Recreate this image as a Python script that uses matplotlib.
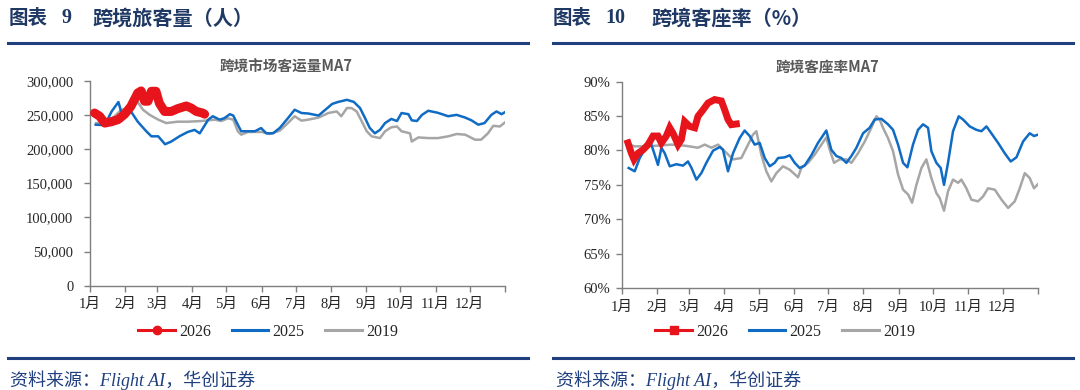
import matplotlib
matplotlib.use("Agg")
import matplotlib.pyplot as plt
from matplotlib.lines import Line2D
from matplotlib.ticker import FuncFormatter, MultipleLocator

# ---------------- data ----------------
month_labels = ["1月", "2月", "3月", "4月", "5月", "6月", "7月", "8月", "9月", "10月", "11月", "12月", ""]
month_starts = [0, 31, 59, 90, 120, 151, 181, 212, 243, 273, 304, 334, 365]
legend_labels = ["2026", "2025", "2019"]

# Left: cross-border passenger volume MA7 (persons, in thousands)
L_2026_day = [4, 8.5, 13, 18.8, 24.6, 30.5, 36, 42, 45, 48, 51, 54, 58, 61, 65.6, 71.5, 77, 84.7, 89, 93.5, 99, 100.8]
L_2026_val = [252.7, 248, 238, 240, 243, 251, 262.5, 282, 285, 270, 270, 284.5, 284.5, 267, 255, 255, 259, 263, 260, 255, 252.7, 251]

L_2025_day = [5, 13, 19, 25, 29, 31, 34, 42, 49.5, 54, 60, 66, 71.5, 79, 86, 92, 96.5, 104, 108, 114,
              118, 123, 126, 130, 133, 145, 150.5, 155, 161, 167, 174, 180, 186, 192, 201, 207, 213, 218, 226, 232,
              237.5, 242, 246, 250.5, 255, 259.5, 265, 270, 274, 280, 283, 287.5, 292, 297.5, 306, 315, 322.5, 330,
              335.5, 341.5, 347, 353, 357.5, 362, 365]
L_2025_val = [235.6, 235, 255, 268.8, 245, 255, 260, 240, 226, 218.6, 218.6, 207, 211, 219, 225, 228, 223, 243, 248, 243,
              245, 251, 249, 235.6, 226, 226, 230.7, 223, 223, 231, 245, 257.5, 252.7, 252, 249, 257.5, 266, 268.8, 272, 269,
              260, 245, 231, 223, 228, 238, 244, 241, 252.7, 251, 242, 241, 250, 256, 253, 248, 250, 246,
              242, 235.6, 238, 250, 255, 251, 254]

L_2019_day = [5.5, 13, 21.7, 27.5, 35, 42, 46.6, 52.5, 60, 67, 77, 86, 98, 109.6, 115.5, 121.4, 126, 130, 133, 139,
              151, 158, 167, 174, 180, 186, 192, 201, 209.6, 217, 221, 226, 230, 234.5, 239, 243.4, 247.7, 255, 259.5, 265,
              270, 274, 281.4, 283, 288.8, 297.6, 306, 315, 322.5, 330, 338.6, 344, 350, 354.7, 360.5, 365]
L_2019_val = [238, 238, 248, 257.5, 260, 268.8, 257.5, 250, 243, 238, 240, 240, 241, 243, 241, 245, 243, 226, 221, 225,
              225, 222, 227, 238, 248, 241.5, 243, 246, 252.7, 255, 248, 260, 260, 255, 240.5, 226, 218.6, 216, 226, 231.8,
              233, 226, 223, 211, 217, 216, 216, 218.6, 222, 221, 213.7, 213.7, 223, 234, 233, 239]

# Right: cross-border load factor MA7 (%)
R_2026_day = [5.5, 8.5, 10.8, 14.3, 18.7, 23.1, 27.5, 31.8, 34.8, 39.1, 42.1, 45, 49.4, 52.3, 55.2, 59.6, 64, 66.9,
              71.3, 75.7, 81.5, 87.4, 90.3, 93.2, 96.1, 100.5]
R_2026_val = [81.1, 79.6, 78.7, 79.6, 80.1, 80.85, 82.1, 82.1, 81.1, 82.1, 83.3, 82.5, 80.85, 81.6, 84.2, 83.5, 83.3, 84.97,
              85.9, 86.9, 87.4, 87.2, 85.9, 84.5, 83.75, 83.85]

R_2025_day = [6.1, 11.4, 15.8, 20.1, 24.5, 28.9, 31.8, 34.8, 37.7, 42.1, 47.9, 53.8, 58.1, 61.1, 65.5, 69.8, 74.2, 80.1,
              86, 88.8, 93.2, 97.6, 103.4, 107.8, 112.2, 116.6, 121, 125.4, 129.8, 134.1, 137.1, 142.9, 147.3, 151.7,
              156, 160.4, 166.3, 172.1, 179.4, 183.8, 188.2, 192.6, 197, 201.4, 205.8, 211.6, 217.4, 221.8, 227.7,
              233.5, 237.9, 242.3, 246.7, 250.5, 255.4, 259.8, 264.2, 268.6, 271.5, 275.9, 279.7, 282.6, 286.1, 290.5,
              295.5, 299.3, 305.1, 311, 315.4, 319.8, 324.1, 330, 335.8, 341.1, 346.1, 351.9, 357.7, 361.5, 365]
R_2025_val = [77.45, 76.97, 78.9, 80.1, 81.6, 79.4, 77.9, 80.4, 79.6, 77.7, 78.0, 77.8, 78.4, 77.5, 75.76, 76.7, 78.2, 79.97,
              80.5, 80.1, 76.97, 79.6, 81.8, 82.9, 82.1, 80.85, 81.1, 78.9, 77.7, 78.2, 78.9, 79.0, 79.3, 78.2,
              77.45, 77.8, 79.3, 81.1, 82.9, 80.1, 79.2, 78.9, 78.2, 79.2, 80.4, 82.5, 83.3, 84.5, 84.6,
              83.8, 83.0, 80.85, 78.2, 77.55, 80.85, 83.0, 83.8, 83.3, 79.9, 78.2, 77.45, 75.0, 78.2, 82.8,
              84.97, 84.5, 83.5, 83.0, 82.8, 83.5, 82.5, 81.1, 79.6, 78.4, 79.0, 81.3, 82.5, 82.1, 82.3]

R_2019_day = [6.1, 11.4, 20.1, 31.8, 43.5, 55.2, 66.9, 72.8, 78.6, 84.5, 90.3, 97.6, 104.9, 110.8, 115.1, 118.1, 122.4,
              126.8, 131.2, 135.6, 141.4, 147.3, 154.6, 157.5, 163.4, 169.2, 175.1, 179.4, 182.4, 186.2, 191.1, 197,
              201.4, 207.2, 213.1, 218.9, 223.3, 226.2, 229.1, 233.5, 237.9, 242.3, 246.7, 251.1, 254.6, 258.4, 262.8,
              267.1, 271.5, 275.9, 278.8, 282.6, 286.1, 290.5, 294.9, 297.8, 302.2, 306.6, 312.4, 316.8, 321.2, 327.1,
              333, 338.8, 344.6, 349, 353.4, 357.7, 361.5, 365]
R_2019_val = [80.9, 80.6, 80.6, 80.7, 80.85, 80.7, 80.4, 80.85, 80.4, 80.85, 79.9, 78.7, 78.9, 80.85, 82.3, 82.8, 79.4,
              76.97, 75.5, 76.7, 77.7, 77.2, 76.1, 77.45, 78.2, 79.4, 80.85, 81.9, 80.1, 78.2, 78.7, 78.7,
              78.2, 79.6, 81.3, 83.3, 84.97, 84.5, 83.3, 81.8, 79.9, 76.5, 74.3, 73.6, 72.4, 75.0, 77.45,
              78.7, 76.0, 73.8, 73.1, 71.25, 74.06, 75.76, 75.3, 75.76, 74.5, 72.85, 72.6, 73.3, 74.5, 74.3,
              72.85, 71.64, 72.6, 74.5, 76.7, 76.0, 74.5, 75.1]

# ---------------- style ----------------
RED = "#E8141C"
BLUE = "#0F6BC4"
GRAY = "#A6A6A6"
NAVY = "#1F3F7F"
SPINE = "#7F7F7F"
TXT = "#262626"
SERIF = ["Liberation Serif", "Noto Sans CJK SC"]
CJK = ["Noto Sans CJK SC", "DejaVu Sans"]

plt.rcParams["font.family"] = SERIF

W, H = 1080, 390
fig = plt.figure(figsize=(W / 100, H / 100), dpi=100)


def fx(x):
    return x / W


def fy(y):
    return 1 - y / H


def style_axes(ax):
    for s in ["top", "right"]:
        ax.spines[s].set_visible(False)
    for s in ["left", "bottom"]:
        ax.spines[s].set_color(SPINE)
        ax.spines[s].set_linewidth(1.0)
    ax.set_xlim(0, 365)
    ax.set_xticks(month_starts)
    ax.set_xticklabels(month_labels, family=SERIF, fontsize=10.5, color=TXT)
    ax.tick_params(axis="x", direction="out", length=4, width=1, color=SPINE, pad=5)
    ax.tick_params(axis="y", direction="out", length=4, width=1, color=SPINE, labelsize=10.5, labelcolor=TXT)
    for lab in ax.get_yticklabels():
        lab.set_family(SERIF)


# ---------------- left chart ----------------
ax1 = fig.add_axes([fx(90), fy(285.7), fx(415), 205 / H])
ax1.plot(L_2019_day, [v * 1000 for v in L_2019_val], color=GRAY, lw=1.8, zorder=2)
ax1.plot(L_2025_day, [v * 1000 for v in L_2025_val], color=BLUE, lw=1.8, zorder=3)
ax1.plot(L_2026_day, [v * 1000 for v in L_2026_val], color=RED, lw=6.5, solid_capstyle="round",
         solid_joinstyle="round", zorder=4)
ax1.set_ylim(0, 300000)
ax1.yaxis.set_major_locator(MultipleLocator(50000))
ax1.yaxis.set_major_formatter(FuncFormatter(lambda v, p: f"{int(v):,}"))
style_axes(ax1)
ax1.tick_params(axis="y", pad=8)

# ---------------- right chart ----------------
ax2 = fig.add_axes([fx(621.7), fy(288), fx(416.3), 206.3 / H])
ax2.plot(R_2019_day, R_2019_val, color=GRAY, lw=1.8, zorder=2)
ax2.plot(R_2025_day, R_2025_val, color=BLUE, lw=1.8, zorder=3)
ax2.plot(R_2026_day, R_2026_val, color=RED, lw=5, solid_capstyle="projecting",
         solid_joinstyle="miter", zorder=4)
ax2.set_ylim(60, 90)
ax2.yaxis.set_major_locator(MultipleLocator(5))
ax2.yaxis.set_major_formatter(FuncFormatter(lambda v, p: f"{int(round(v))}%"))
style_axes(ax2)
ax2.tick_params(axis="y", pad=4)

# ---------------- legends ----------------
h_left = [Line2D([], [], color=RED, lw=2.2, marker="o", markersize=6),
          Line2D([], [], color=BLUE, lw=2.2),
          Line2D([], [], color=GRAY, lw=2.2)]
h_right = [Line2D([], [], color=RED, lw=2.2, marker="s", markersize=5.5),
           Line2D([], [], color=BLUE, lw=2.2),
           Line2D([], [], color=GRAY, lw=2.2)]
for handles, cx in [(h_left, 268), (h_right, 785)]:
    leg = fig.legend(handles, legend_labels, loc="center", bbox_to_anchor=(fx(cx), fy(332)), ncol=3,
                     frameon=False, handlelength=2.3, handletextpad=0.25, columnspacing=1.3,
                     prop={"family": SERIF, "size": 11.5})
    for t in leg.get_texts():
        t.set_color(TXT)

# ---------------- chart titles ----------------
fig.text(fx(286), fy(67), "跨境市场客运量MA7", family=CJK, fontsize=10.5, fontweight="bold",
         color="#595959", ha="center", va="center")
fig.text(fx(827), fy(67), "跨境客座率MA7", family=CJK, fontsize=10.5, fontweight="bold",
         color="#595959", ha="center", va="center")

# ---------------- headings ----------------
HEAD = "#1F3864"
fig.text(fx(9), fy(18), "图表", family=CJK, fontsize=14, fontweight="bold", color=HEAD, ha="left", va="center")
fig.text(fx(62), fy(18), "9", family=SERIF, fontsize=14.5, fontweight="bold", color=HEAD, ha="left", va="center")
fig.text(fx(92), fy(18), "跨境旅客量（人）", family=CJK, fontsize=14.5, fontweight="bold", color=HEAD,
         ha="left", va="center")
fig.text(fx(553), fy(18), "图表", family=CJK, fontsize=14, fontweight="bold", color=HEAD, ha="left", va="center")
fig.text(fx(605), fy(18), "10", family=SERIF, fontsize=14.5, fontweight="bold", color=HEAD, ha="left", va="center")
fig.text(fx(651), fy(18), "跨境客座率（%）", family=CJK, fontsize=14.5, fontweight="bold", color=HEAD,
         ha="left", va="center")

# ---------------- rules ----------------
for (x0, x1) in [(8, 528), (553, 1073)]:
    for yy in (42.5, 358):
        fig.add_artist(Line2D([fx(x0), fx(x1)], [fy(yy), fy(yy)], color=NAVY, lw=2.2,
                              transform=fig.transFigure))

# ---------------- source notes ----------------
for x0 in (10, 556):
    fig.text(fx(x0), fy(380), "资料来源：Flight AI，华创证券", family=["Liberation Serif", "Noto Sans CJK SC"],
             style="italic", fontsize=13, color=NAVY, ha="left", va="center")

fig.savefig("out.png", dpi=100)
